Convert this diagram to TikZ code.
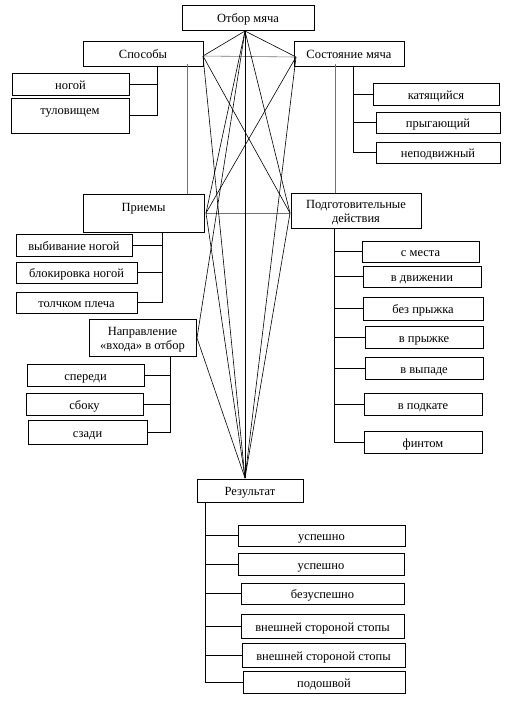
\documentclass[tikz,border=0pt]{standalone}
\usepackage{fontspec}
\setmainfont{Liberation Serif}
\begin{document}
\begin{tikzpicture}[x=1pt,y=-1pt,
  box/.style={draw, line width=0.8pt, inner sep=0pt, text height=10.5pt, text depth=0.5pt, font=\fontsize{12.5}{14}\selectfont},
  mbox/.style={draw, line width=0.8pt, inner sep=0pt, font=\fontsize{12.5}{14}\selectfont},
  ln/.style={line width=0.6pt},
  gln/.style={line width=0.6pt, black!55}]
\useasboundingbox (0,0) rectangle (508,724);
% boxes
\node[box, minimum width=132, minimum height=25] (top) at (248,17.5) {Отбор мяча};
\node[box, minimum width=120, minimum height=25] (sp) at (143,53.5) {Способы};
\node[box, minimum width=110, minimum height=25] (sost) at (349,53.5) {Состояние мяча};
\node[box, minimum width=117, minimum height=22] (nog) at (70.5,84) {ногой};
\node[box, minimum width=118, minimum height=35] (tul) at (70,115.5) {\raisebox{6pt}{туловищем}};
\node[box, minimum width=126, minimum height=22] (kat) at (436,94) {катящийся};
\node[box, minimum width=124, minimum height=21] (pryg) at (438,122.5) {прыгающий};
\node[box, minimum width=124, minimum height=21] (nepod) at (438,152.5) {неподвижный};
\node[box, minimum width=121, minimum height=38] (pr) at (143.5,213) {\raisebox{6.5pt}{Приемы}};
\node[mbox, minimum width=130, minimum height=35] (podg) at (356,210.5) {\raisebox{-2pt}[\height][\depth]{\begin{tabular}{@{}c@{}}Подготовительные\\действия\end{tabular}}};
\node[box, minimum width=116, minimum height=22] (vyb) at (74,245) {выбивание ногой};
\node[box, minimum width=121, minimum height=21] (blok) at (76.5,272.5) {блокировка ногой};
\node[box, minimum width=121, minimum height=21] (tol) at (76.5,302.5) {толчком плеча};
\node[box, minimum width=117, minimum height=21] (smesta) at (420.5,251.5) {с места};
\node[box, minimum width=118, minimum height=21] (vdv) at (422,276.5) {в движении};
\node[box, minimum width=120, minimum height=23] (bezpr) at (423,308.5) {без прыжка};
\node[box, minimum width=118, minimum height=22] (vpr) at (424,337) {в прыжке};
\node[box, minimum width=118, minimum height=22] (vvyp) at (424,368) {в выпаде};
\node[box, minimum width=118, minimum height=22] (vpod) at (423,404) {в подкате};
\node[box, minimum width=118, minimum height=22] (fint) at (423,442) {финтом};
\node[mbox, minimum width=107, minimum height=37] (napr) at (142.5,337.5) {\raisebox{-2pt}[\height][\depth]{\begin{tabular}{@{}c@{}}Направление\\«входа» в отбор\end{tabular}}};
\node[box, minimum width=117, minimum height=22] (sper) at (85.5,375) {спереди};
\node[box, minimum width=117, minimum height=22] (sbok) at (84.5,404) {сбоку};
\node[box, minimum width=119, minimum height=24] (szad) at (87.5,432) {сзади};
\node[box, minimum width=106, minimum height=23] (res) at (250,490.5) {Результат};
\node[box, minimum width=167, minimum height=21] (usp1) at (321.5,535.5) {успешно};
\node[box, minimum width=166, minimum height=22] (usp2) at (321,564) {успешно};
\node[box, minimum width=163, minimum height=21] (bezusp) at (322.5,593.5) {безуспешно};
\node[box, minimum width=163, minimum height=24] (vn1) at (322.5,626) {внешней стороной стопы};
\node[box, minimum width=163, minimum height=24] (vn2) at (323.5,655) {внешней стороной стопы};
\node[box, minimum width=162, minimum height=22] (podosh) at (324,682) {подошвой};
% central points
\coordinate (T) at (245,31);
\coordinate (S) at (203,56);
\coordinate (C) at (296,57);
\coordinate (P) at (206,213);
\coordinate (D) at (290,213);
\coordinate (N) at (197,338);
\coordinate (R) at (245,478);
\draw[ln] (T) -- (S);
\draw[ln] (T) -- (C);
\draw[gln] (S) -- (C);
\draw[gln] (P) -- (D);
\draw[ln] (T) -- (R);
\draw[ln] (T) -- (P);
\draw[ln] (T) -- (D);
\draw[ln] (T) -- (N);
\draw[ln] (S) -- (D);
\draw[ln] (C) -- (P);
\draw[ln] (S) -- (R);
\draw[ln] (C) -- (R);
\draw[ln] (P) -- (R);
\draw[ln] (D) -- (R);
\draw[ln] (N) -- (R);
% side verticals
\draw[gln] ([yshift=2pt]sp.south -| 187,0) -- (pr.north -| 187,0);
\draw[gln] ([yshift=2pt]sost.south -| 335,0) -- (podg.north -| 335,0);
% Способы branch
\coordinate (spT) at (157,66);
\draw[ln] (spT) |- (tul.east);
\draw[ln] (nog.east) -- (nog.east -| spT);
% Состояние branch
\coordinate (soT) at (353,66);
\draw[ln] (soT) |- (nepod.west);
\draw[ln] (kat.west) -- (kat.west -| soT);
\draw[ln] (pryg.west) -- (pryg.west -| soT);
% Приемы branch
\coordinate (prT) at (162,232);
\draw[ln] (prT) |- (tol.east);
\draw[ln] (vyb.east) -- (vyb.east -| prT);
\draw[ln] (blok.east) -- (blok.east -| prT);
% Подготовительные branch
\coordinate (pdT) at (334,228);
\draw[ln] (pdT) |- (fint.west);
\draw[ln] (smesta.west) -- (smesta.west -| pdT);
\draw[ln] (vdv.west) -- (vdv.west -| pdT);
\draw[ln] (bezpr.west) -- (bezpr.west -| pdT);
\draw[ln] (vpr.west) -- (vpr.west -| pdT);
\draw[ln] (vvyp.west) -- (vvyp.west -| pdT);
\draw[ln] (vpod.west) -- (vpod.west -| pdT);
% Направление branch
\coordinate (naT) at (170,356);
\draw[ln] (naT) |- (szad.east);
\draw[ln] (sper.east) -- (sper.east -| naT);
\draw[ln] (sbok.east) -- (sbok.east -| naT);
% Результат branch
\coordinate (reT) at (205,502);
\draw[ln] (reT) |- (podosh.west);
\draw[ln] (usp1.west) -- (usp1.west -| reT);
\draw[ln] (usp2.west) -- (usp2.west -| reT);
\draw[ln] (bezusp.west) -- (bezusp.west -| reT);
\draw[ln] (vn1.west) -- (vn1.west -| reT);
\draw[ln] (vn2.west) -- (vn2.west -| reT);
\end{tikzpicture}
\end{document}
